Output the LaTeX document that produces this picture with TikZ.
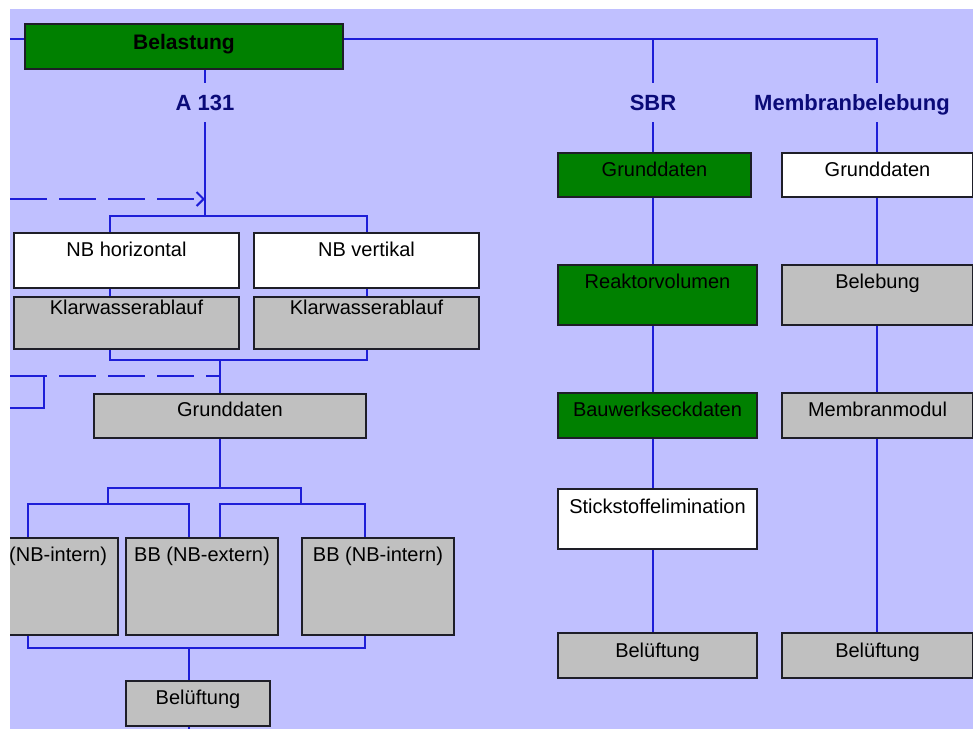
\documentclass[tikz,border=0pt]{standalone}
\usepackage{fontspec}
\setmainfont{Liberation Sans}
\usetikzlibrary{arrows.meta,positioning,calc}
\definecolor{wlav}{RGB}{192,192,255}
\definecolor{wgreen}{RGB}{0,128,0}
\definecolor{wgray}{RGB}{192,192,192}
\definecolor{wblue}{RGB}{30,30,215}
\definecolor{wnavy}{RGB}{10,10,120}
\definecolor{wedge}{RGB}{30,30,40}
\newcommand\cellfont{\fontsize{20}{24}\selectfont}
\newcommand\tagfont{\fontsize{22}{26}\selectfont\bfseries}
\pgfdeclarelayer{back}
\pgfsetlayers{back,main}

\begin{document}
\begin{tikzpicture}[x=1pt,y=-1pt,
  box/.style={draw=wedge,line width=2pt,inner sep=0pt,anchor=north west,
    font=\cellfont,text height=23pt},
  greenbox/.style={box,fill=wgreen},
  graybox/.style={box,fill=wgray},
  whitebox/.style={box,fill=white},
  tag/.style={font=\tagfont,text=wnavy,text height=16pt,text depth=0pt,inner ysep=11.5pt},
  link/.style={draw=wblue,line width=2pt},
  feed/.style={link,dash pattern=on 37pt off 12pt}]
  \useasboundingbox (0,0) rectangle (973,729);
  \begin{pgfonlayer}{back}
    \fill[wlav] (10,9) rectangle (973,729);
  \end{pgfonlayer}

  \begin{scope}
  \clip (10,9) rectangle (973,729);
  % Belastung
  \node[greenbox,font=\fontsize{21}{24}\selectfont\bfseries,text height=25pt,
    minimum width=318pt,text depth=20pt] (belast) at (24,23) {Belastung};

  % A 131
  \node[tag] (a131) at (205,102.5) {A 131};
  \node[whitebox,minimum width=225pt,text depth=32pt] (nbh) at (13,232) {NB horizontal};
  \node[whitebox,minimum width=225pt,text depth=32pt] (nbv) at (253,232) {NB vertikal};
  \node[graybox,minimum width=225pt,text height=17pt,text depth=35pt] (klar1) at (13,296) {Klarwasserablauf};
  \node[graybox,minimum width=225pt,text height=17pt,text depth=35pt] (klar2) at (253,296) {Klarwasserablauf};
  \node[graybox,minimum width=272pt,text height=22pt,text depth=22pt] (grundA) at (93,393) {Grunddaten};
  \node[graybox,minimum width=152pt,text depth=74pt] (bbi1) at (-35,537) {BB (NB-intern)};
  \node[graybox,minimum width=152pt,text depth=74pt] (bbe) at (125,537) {BB (NB-extern)};
  \node[graybox,minimum width=152pt,text depth=74pt] (bbi2) at (301,537) {BB (NB-intern)};
  \node[graybox,minimum width=144pt,text depth=22pt] (belA) at (125,680) {Belüftung};

  % SBR
  \node[tag] (sbr) at (653,102.5) {SBR};
  \node[greenbox,minimum width=193pt,text depth=21pt] (sgrund) at (557,152) {Grunddaten};
  \node[greenbox,minimum width=199pt,text depth=37pt] (reakt) at (557,264) {Reaktorvolumen};
  \node[greenbox,minimum width=199pt,text depth=22pt] (bauw) at (557,392) {Bauwerkseckdaten};
  \node[whitebox,minimum width=199pt,text height=24pt,text depth=36pt] (stick) at (557,488) {Stickstoffelimination};
  \node[graybox,minimum width=199pt,text height=24pt,text depth=21pt] (sbel) at (557,632) {Belüftung};

  % Membranbelebung
  \node[tag] (memb) at (852,102.5) {Membranbelebung};
  \node[whitebox,minimum width=191pt,text depth=21pt] (mgrund) at (781,152) {Grunddaten};
  \node[graybox,minimum width=191pt,text depth=37pt] (beleb) at (781,264) {Belebung};
  \node[graybox,minimum width=191pt,text depth=22pt] (mmod) at (781,392) {Membranmodul};
  \node[graybox,minimum width=191pt,text height=24pt,text depth=21pt] (mbel) at (781,632) {Belüftung};
  \end{scope}

  % junctions
  \coordinate (busW) at (10,39);
  \coordinate (busE) at (877,39);
  \coordinate (arrA) at (205,199);
  \coordinate (fbA) at (10,199);
  \coordinate (jA) at (110,216);
  \coordinate (jB) at (110,360);
  \coordinate (jC) at (220,360);
  \coordinate (fbB) at (10,376);
  \coordinate (fbC) at (44,376);
  \coordinate (fbD) at (10,408);
  \coordinate (jD) at (108,488);
  \coordinate (jE) at (301,488);
  \coordinate (jF) at (28,504);
  \coordinate (jG) at (189,504);
  \coordinate (jH) at (220,504);
  \coordinate (jI) at (365,504);
  \coordinate (jJ) at (28,648);
  \coordinate (jK) at (189,648);
  \coordinate (endA) at (189,729);

  \begin{pgfonlayer}{back}
    \draw[link] (busW) -- (busE) -- (memb.north -| busE);
    \draw[link] (sbr.north |- busE) -- (sbr.north);
    \draw[link] (sbr.south) -- (sgrund.north -| sbr);
    \foreach \a/\b in {sgrund/reakt,reakt/bauw,bauw/stick,stick/sbel}
      \draw[link] (\a.south -| sbr) -- (\b.north -| sbr);
    \draw[link] (memb.south -| busE) -- (mgrund.north -| busE);
    \foreach \a/\b in {mgrund/beleb,beleb/mmod,mmod/mbel}
      \draw[link] (\a.south -| busE) -- (\b.north -| busE);

    \draw[link] (a131.north) -- (a131.north |- belast.south);
    \draw[feed,-{Straight Barb[length=7pt,width=14pt]}] (fbA) -- (arrA);
    \draw[link] (a131.south) -- (a131.south |- jA);
    \draw[link] (jA |- nbh.north) -- (jA) -- (jA -| nbv) -- (nbv.north);
    \draw[link] (jA |- nbh.south) -- (jA |- klar1.north);
    \draw[link] (nbv.south) -- (klar2.north);
    \draw[link] (jB |- klar1.south) -- (jB) -- (jB -| klar2) -- (klar2.south);
    \draw[link] (jC) -- (jC |- grundA.north);
    \draw[feed] (fbB) -- (jC |- fbB);
    \draw[link] (fbC) -- (fbC |- fbD) -- (fbD);

    \draw[link] (jC |- grundA.south) -- (jC |- jD);
    \draw[link] (jD |- jF) -- (jD) -- (jE) -- (jE |- jF);
    \draw[link] (jF |- bbi1.north) -- (jF) -- (jG) -- (jG |- bbe.north);
    \draw[link] (jH |- bbe.north) -- (jH) -- (jI) -- (jI |- bbi2.north);
    \draw[link] (jF |- bbi1.south) -- (jJ) -- (jJ -| jI) -- (jI |- bbi2.south);
    \draw[link] (jK) -- (jK |- belA.north);
    \draw[link] (jK |- belA.south) -- (endA);
  \end{pgfonlayer}
\end{tikzpicture}
\end{document}
